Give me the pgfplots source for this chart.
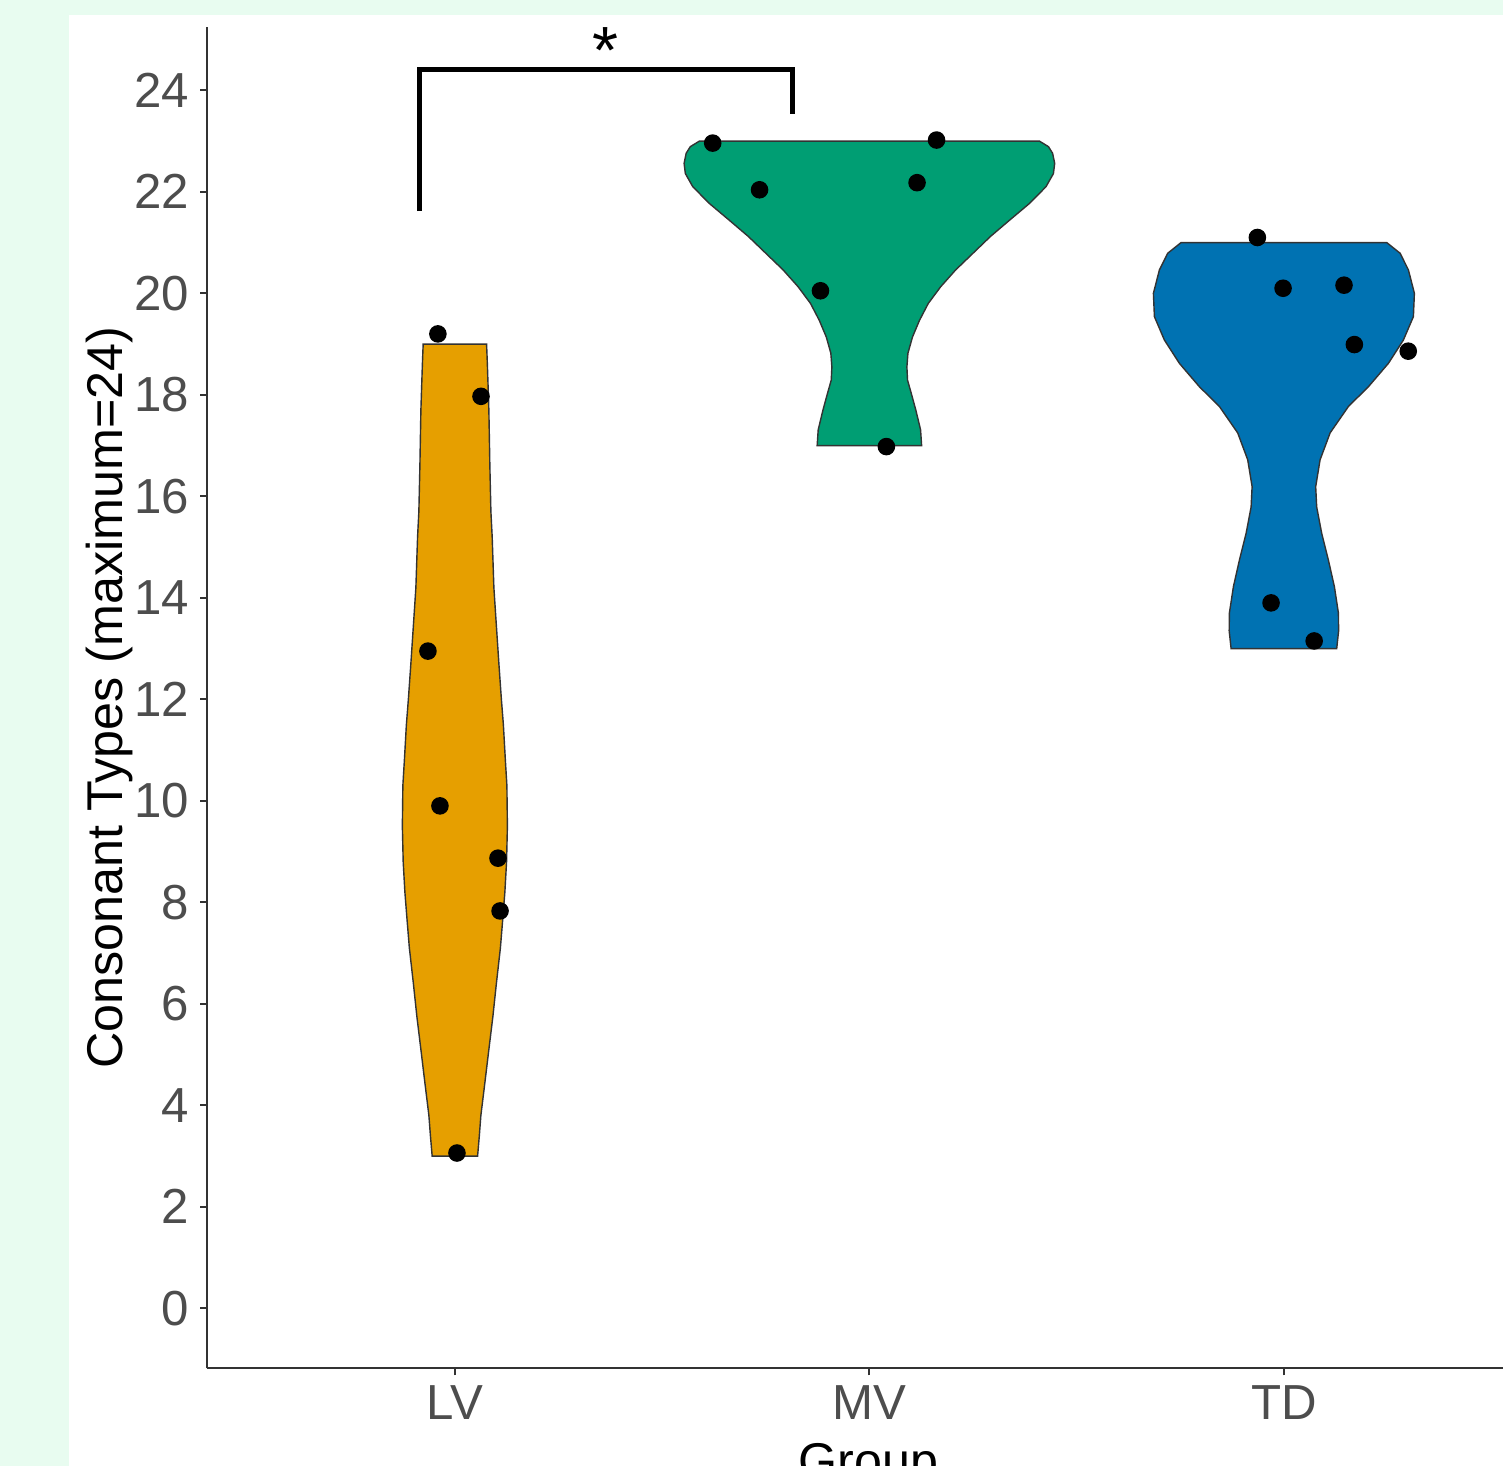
\documentclass[border=0pt]{standalone}
\usepackage{fontspec}
\setmainfont{Liberation Sans}
\usepackage{pgfplots}
\pgfplotsset{compat=1.18}
\definecolor{bggreen}{RGB}{232,252,240}
\definecolor{lvcol}{HTML}{E69F00}
\definecolor{mvcol}{HTML}{009E73}
\definecolor{tdcol}{HTML}{0072B2}
\definecolor{axcol}{HTML}{333333}
\definecolor{tickcol}{HTML}{4D4D4D}
\begin{document}
\begin{tikzpicture}
\begin{scope}
\clip (0,0) rectangle (15.03,14.66);
\fill[bggreen] (0,0) rectangle (15.03,14.66);
\fill[white] (0.69,0) rectangle (15.03,14.51);
\begin{axis}[
  at={(2.07cm,0.977cm)}, anchor=south west,
  scale only axis, width=13.256cm, height=13.409cm,
  xmin=0.402, xmax=3.6, ymin=-1.182, ymax=25.24,
  axis x line=bottom, axis y line=left,
  axis line style={draw=axcol, line width=0.6pt, -},
  tick align=outside, major tick length=0.07cm,
  tick style={draw=axcol, line width=0.6pt},
  xtick={1,2,3}, xticklabels={LV,MV,TD},
  ytick={0,2,4,6,8,10,12,14,16,18,20,22,24},
  yticklabels={0,2,4,6,8,10,12,14,16,18,20,22,24},
  every tick label/.append style={font=\fontsize{14}{16}\selectfont, text=tickcol},
  xticklabel style={anchor=north, inner sep=0pt, yshift=-0.10cm},
  yticklabel style={anchor=east, inner sep=0pt, xshift=-0.10cm},
  clip=false,
]
\addplot[fill=lvcol, draw=axcol, line width=0.4pt] coordinates {
(1.0548,3.0) (1.0590,3.4) (1.0627,3.8) (1.0717,4.4) (1.0820,5.1) (1.0917,5.75) (1.1001,6.4) (1.1098,7.1) (1.1158,7.7) (1.1206,8.2) (1.1247,8.8) (1.1267,9.5) (1.1255,10.3) (1.1218,10.8) (1.1170,11.5) (1.1122,12.0) (1.1062,12.7) (1.0989,13.6) (1.0941,14.2) (1.0900,15.2) (1.0869,15.7) (1.0844,16.6) (1.0820,17.7) (1.0784,18.6) (1.0765,19.0)
(0.9235,19.0) (0.9216,18.6) (0.9180,17.7) (0.9156,16.6) (0.9131,15.7) (0.9100,15.2) (0.9059,14.2) (0.9011,13.6) (0.8938,12.7) (0.8878,12.0) (0.8830,11.5) (0.8782,10.8) (0.8745,10.3) (0.8733,9.5) (0.8753,8.8) (0.8794,8.2) (0.8842,7.7) (0.8902,7.1) (0.8999,6.4) (0.9083,5.75) (0.9180,5.1) (0.9283,4.4) (0.9373,3.8) (0.9410,3.4) (0.9452,3.0)
} --cycle;
\addplot[fill=mvcol, draw=axcol, line width=0.4pt] coordinates {
(2.1260,17.00) (2.1235,17.31) (2.1120,17.70) (2.1010,18.03) (2.0920,18.29) (2.0905,18.55) (2.0930,18.82) (2.1040,19.14) (2.1210,19.47) (2.1420,19.80) (2.1720,20.13) (2.2080,20.46) (2.2500,20.79) (2.2920,21.12) (2.3380,21.44) (2.3860,21.77) (2.4260,22.10) (2.4440,22.36) (2.4470,22.56) (2.4420,22.76) (2.4320,22.89) (2.4100,23.00)
(1.5900,23.00) (1.5680,22.89) (1.5580,22.76) (1.5530,22.56) (1.5560,22.36) (1.5740,22.10) (1.6140,21.77) (1.6620,21.44) (1.7080,21.12) (1.7500,20.79) (1.7920,20.46) (1.8280,20.13) (1.8580,19.80) (1.8790,19.47) (1.8960,19.14) (1.9070,18.82) (1.9095,18.55) (1.9080,18.29) (1.8990,18.03) (1.8880,17.70) (1.8765,17.31) (1.8740,17.00)
} --cycle;
\addplot[fill=tdcol, draw=axcol, line width=0.4pt] coordinates {
(3.1274,13.00) (3.1320,13.35) (3.1315,13.70) (3.1218,14.22) (3.1074,14.74) (3.0912,15.27) (3.0791,15.79) (3.0767,16.19) (3.0873,16.72) (3.1115,17.25) (3.1556,17.77) (3.2039,18.16) (3.2521,18.62) (3.2883,19.08) (3.3124,19.54) (3.3148,20.00) (3.3004,20.46) (3.2803,20.79) (3.2480,21.00)
(2.7520,21.00) (2.7197,20.79) (2.6996,20.46) (2.6852,20.00) (2.6876,19.54) (2.7117,19.08) (2.7479,18.62) (2.7961,18.16) (2.8444,17.77) (2.8885,17.25) (2.9127,16.72) (2.9233,16.19) (2.9209,15.79) (2.9088,15.27) (2.8926,14.74) (2.8782,14.22) (2.8685,13.70) (2.8680,13.35) (2.8726,13.00)
} --cycle;
\addplot[only marks, mark=*, mark size=2.3pt, mark options={fill=black, draw=black}] coordinates {
(0.959,19.20) (1.063,17.97) (0.935,12.95) (0.964,9.90) (1.104,8.87) (1.109,7.83) (1.005,3.06)
(1.622,22.96) (1.735,22.04) (1.882,20.05) (2.041,16.98) (2.115,22.18) (2.162,23.02)
(2.936,21.10) (2.998,20.10) (3.145,20.16) (3.170,18.99) (3.300,18.86) (2.969,13.90) (3.073,13.15)
};
\addplot[black, line width=1.5pt, line join=miter] coordinates {(0.9144,21.62) (0.9144,24.406) (1.8137,24.406) (1.8137,23.53)};
\node[anchor=base, inner sep=0pt, font=\fontsize{19}{21}\selectfont] at (axis cs:1.364,24.33) {*};
\end{axis}
\node[rotate=90, anchor=base, inner sep=0pt, font=\fontsize{14.3}{16}\selectfont] at (1.22,7.685) {Consonant Types (maximum=24)};
\node[anchor=base, inner sep=0pt, font=\fontsize{14.3}{16}\selectfont] at (8.685,-0.127) {Group};
\end{scope}
\pgfresetboundingbox
\useasboundingbox (0,0) rectangle (15.03,14.66);
\end{tikzpicture}
\end{document}
